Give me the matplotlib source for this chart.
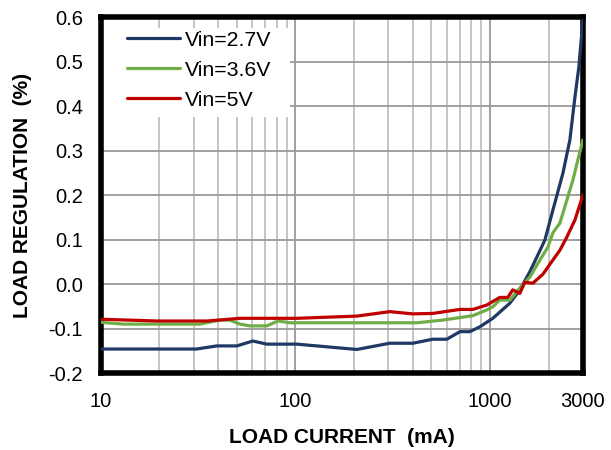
import matplotlib
matplotlib.use("Agg")
import matplotlib.pyplot as plt
from matplotlib.patches import Rectangle
from matplotlib.ticker import FixedLocator, NullFormatter, FuncFormatter

plt.rcParams['font.family'] = ['Liberation Sans', 'DejaVu Sans']

# load current (mA) and load regulation (%) per input voltage
i_27 = [10, 31, 39.5, 50, 60.4, 71.3, 101.6, 207, 305, 401, 508, 600, 700, 788, 887,
        1033, 1264, 1422, 1603, 1914, 2103, 2368, 2572, 2730, 2860, 3000]
reg_27 = [-0.146, -0.146, -0.139, -0.139, -0.128, -0.135, -0.135, -0.147, -0.133, -0.133,
          -0.124, -0.124, -0.107, -0.107, -0.096, -0.077, -0.043, -0.013, 0.028, 0.099,
          0.166, 0.249, 0.324, 0.42, 0.488, 0.593]

i_36 = [10, 13, 32.3, 40.8, 46, 51.8, 58.3, 71.3, 81.3, 93.6, 421, 571, 816, 964, 1033,
        1122, 1264, 1422, 1603, 1804, 1983, 2103, 2285, 2483, 2666, 2827, 3000]
reg_36 = [-0.086, -0.09, -0.09, -0.081, -0.081, -0.09, -0.094, -0.094, -0.083, -0.087,
          -0.087, -0.081, -0.071, -0.058, -0.051, -0.036, -0.036, -0.009, 0.016, 0.054,
          0.083, 0.115, 0.137, 0.189, 0.234, 0.279, 0.324]

i_5 = [10, 19.4, 35.1, 51.8, 101.6, 207, 305, 401, 508, 700, 816, 964, 1122, 1234,
       1308, 1422, 1509, 1660, 1868, 2103, 2285, 2483, 2730, 3000]
reg_5 = [-0.079, -0.083, -0.083, -0.077, -0.077, -0.072, -0.062, -0.067, -0.066, -0.057,
         -0.057, -0.047, -0.03, -0.03, -0.013, -0.021, 0.004, 0.002, 0.022, 0.054,
         0.076, 0.106, 0.144, 0.2]

series = [("Vin=2.7V", i_27, reg_27, "#1f3864"),
          ("Vin=3.6V", i_36, reg_36, "#70ad47"),
          ("Vin=5V", i_5, reg_5, "#c00000")]

x_ticks = [10, 100, 1000, 3000]
y_ticks = [-0.2, -0.1, 0.0, 0.1, 0.2, 0.3, 0.4, 0.5, 0.6]

fig = plt.figure(figsize=(6.11, 4.5), dpi=100)
ax = fig.add_axes([0.165, 0.171, 0.789, 0.791])

for label, x, y, c in series:
    ax.plot(x, y, color=c, lw=2.3, label=label, solid_capstyle='round', zorder=3)

ax.set_xscale('log')
ax.set_xlim(10, 3000)
ax.set_ylim(-0.2, 0.6)

minor = [m * 10 ** d for d in range(1, 4) for m in range(2, 10) if m * 10 ** d < 3000]
ax.xaxis.set_major_locator(FixedLocator(x_ticks))
ax.xaxis.set_minor_locator(FixedLocator(minor))
ax.xaxis.set_major_formatter(FuncFormatter(lambda v, p: f"{v:g}"))
ax.xaxis.set_minor_formatter(NullFormatter())
ax.yaxis.set_major_locator(FixedLocator(y_ticks))
ax.yaxis.set_major_formatter(FuncFormatter(lambda v, p: f"{v:.1f}"))

ax.grid(True, which='major', color='#999999', lw=1.3)
ax.grid(True, which='minor', axis='x', color='#c0c0c0', lw=1.3)
ax.set_axisbelow(True)
ax.tick_params(which='both', length=0, labelsize=14.5, colors='black')
ax.tick_params(axis='x', pad=14)
ax.tick_params(axis='y', pad=13)

for sp in ax.spines.values():
    sp.set_linewidth(4)
    sp.set_color('black')

ax.set_xlabel("LOAD CURRENT  (mA)", fontsize=15, fontweight='bold', labelpad=12)
ax.set_ylabel("LOAD REGULATION  (%)", fontsize=15, fontweight='bold', labelpad=12)

# white patch behind the legend hides the grid there
ax.add_patch(Rectangle((0.004, 0.72), 0.388, 0.25, transform=ax.transAxes,
                       facecolor='white', edgecolor='none', zorder=2))
ax.legend(loc='upper left', bbox_to_anchor=(0.054, 0.962), frameon=False,
          fontsize=15.3, handlelength=2.5, handletextpad=0.25,
          labelspacing=0.52, borderaxespad=0, borderpad=0)

fig.savefig("out.png", dpi=100)
